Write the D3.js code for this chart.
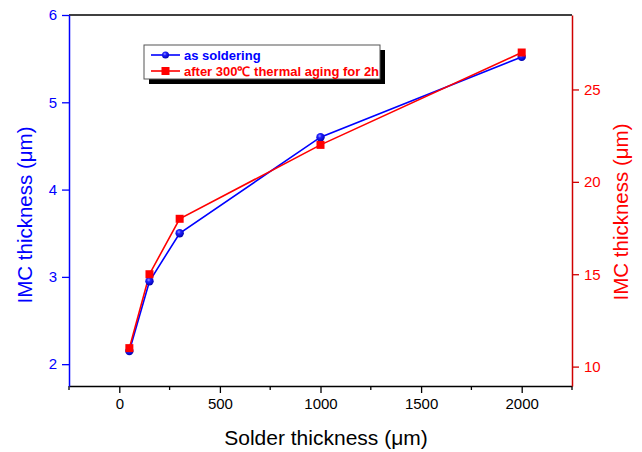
<!DOCTYPE html>
<html>
<head>
<meta charset="utf-8">
<script src="https://cdn.jsdelivr.net/npm/d3@7"></script>
<style>
  body { margin: 0; background: #fff; }
  text { font-family: "Liberation Sans", Arial, sans-serif; }
</style>
</head>
<body>
<div id="chart"></div>
<script>
// solder thickness (um)
var solder = [50, 150, 300, 1000, 2000];
// IMC thickness as soldered (left axis)
var asSoldering = [2.15, 2.95, 3.5, 4.6, 5.52];
// IMC thickness after 300C aging 2h (right axis)
var afterAging = [11, 15, 18, 22, 27];
var xTicks = [0, 500, 1000, 1500, 2000];
var xMinor = [-250, 250, 750, 1250, 1750, 2250];
var yLeftTicks = [2, 3, 4, 5, 6];
var yRightTicks = [10, 15, 20, 25];
var legendLabels = ["as soldering", "after 300\u2103 thermal aging for 2h"];

var W = 642, H = 452;
var pLeft = 69, pRight = 572, pTop = 15, pBottom = 386;
var blue = "#0000ff", red = "#ff0000";

var svg = d3.select("#chart").append("svg")
    .attr("width", W)
    .attr("height", H);

var x = d3.scaleLinear().domain([-250, 2250]).range([pLeft, pRight]);
var yL = d3.scaleLinear().domain([1.75, 6]).range([pBottom, pTop]);
var yR = d3.scaleLinear().domain([8.95, 29.03]).range([pBottom, pTop]);

var defs = svg.append("defs");
var grad = defs.append("radialGradient").attr("id", "ball")
    .attr("cx", "40%").attr("cy", "35%").attr("r", "65%");
grad.append("stop").attr("offset", "0%").attr("stop-color", "#9a9aff");
grad.append("stop").attr("offset", "35%").attr("stop-color", "#2020ff");
grad.append("stop").attr("offset", "100%").attr("stop-color", "#0000b0");

// frame top
svg.append("line").attr("x1", pLeft).attr("x2", pRight).attr("y1", pTop).attr("y2", pTop)
    .attr("stroke", "#000").attr("stroke-width", 1.5);

// bottom axis
var xAxis = svg.append("g").attr("transform", "translate(0," + pBottom + ")")
    .call(d3.axisBottom(x).tickValues(xTicks).tickFormat(d3.format("d"))
        .tickSize(7).tickSizeOuter(0).tickPadding(5));
xAxis.select(".domain").attr("stroke", "#000").attr("stroke-width", 1.5);
xAxis.selectAll(".tick line").attr("stroke-width", 1.3);
xAxis.selectAll("text").attr("font-size", 15).attr("fill", "#000");
svg.append("g").selectAll("line").data(xMinor).enter().append("line")
    .attr("x1", function(d){return x(d);}).attr("x2", function(d){return x(d);})
    .attr("y1", pBottom).attr("y2", pBottom + 4)
    .attr("stroke", "#000").attr("stroke-width", 1.3);

// left axis
var yLeft = svg.append("g").attr("transform", "translate(" + pLeft + ",0)")
    .call(d3.axisLeft(yL).tickValues(yLeftTicks).tickFormat(d3.format("d"))
        .tickSize(7).tickSizeOuter(0).tickPadding(5));
yLeft.select(".domain").attr("stroke", blue).attr("stroke-width", 1.5);
yLeft.selectAll(".tick line").attr("stroke", blue).attr("stroke-width", 1.3);
yLeft.selectAll("text").attr("font-size", 15).attr("fill", blue);

// right axis
var yRight = svg.append("g").attr("transform", "translate(" + pRight + ",0)")
    .call(d3.axisRight(yR).tickValues(yRightTicks).tickFormat(d3.format("d"))
        .tickSize(7).tickSizeOuter(0).tickPadding(5));
yRight.select(".domain").attr("stroke", "#d00000").attr("stroke-width", 1.5);
yRight.selectAll(".tick line").attr("stroke", "#d00000").attr("stroke-width", 1.3);
yRight.selectAll("text").attr("font-size", 15).attr("fill", red);

// axis titles
svg.append("text").attr("x", 326).attr("y", 445)
    .attr("text-anchor", "middle").attr("font-size", 21).attr("fill", "#000")
    .text("Solder thickness (\u03bcm)");
svg.append("text").attr("transform", "translate(32,215) rotate(-90)")
    .attr("text-anchor", "middle").attr("font-size", 20.5).attr("fill", blue)
    .text("IMC thickness (\u03bcm)");
svg.append("text").attr("transform", "translate(628,212) rotate(-90)")
    .attr("text-anchor", "middle").attr("font-size", 20.5).attr("fill", red)
    .text("IMC thickness (\u03bcm)");

// series
var blueData = solder.map(function(d, i){ return [d, asSoldering[i]]; });
var redData = solder.map(function(d, i){ return [d, afterAging[i]]; });

svg.append("path").datum(blueData)
    .attr("fill", "none").attr("stroke", blue).attr("stroke-width", 1.6)
    .attr("d", d3.line().x(function(d){return x(d[0]);}).y(function(d){return yL(d[1]);}));
svg.append("path").datum(redData)
    .attr("fill", "none").attr("stroke", red).attr("stroke-width", 1.6)
    .attr("d", d3.line().x(function(d){return x(d[0]);}).y(function(d){return yR(d[1]);}));

svg.selectAll("circle.pt").data(blueData).enter().append("circle")
    .attr("class", "pt")
    .attr("cx", function(d){return x(d[0]);})
    .attr("cy", function(d){return yL(d[1]);})
    .attr("r", 4.2)
    .attr("fill", "url(#ball)");
svg.selectAll("rect.pt").data(redData).enter().append("rect")
    .attr("class", "pt")
    .attr("x", function(d){return x(d[0]) - 4;})
    .attr("y", function(d){return yR(d[1]) - 4;})
    .attr("width", 8).attr("height", 8)
    .attr("fill", red);

// legend
var lg = svg.append("g").attr("transform", "translate(144,45)");
lg.append("rect").attr("x", 5).attr("y", 5).attr("width", 236).attr("height", 34).attr("fill", "#000");
lg.append("rect").attr("x", 0).attr("y", 0).attr("width", 236).attr("height", 34)
    .attr("fill", "#fff").attr("stroke", "#555").attr("stroke-width", 1);
var rows = [
  {label: legendLabels[0], color: blue, y: 10},
  {label: legendLabels[1], color: red, y: 26}
];
rows.forEach(function(r, i){
    lg.append("line").attr("x1", 7).attr("x2", 36).attr("y1", r.y).attr("y2", r.y)
        .attr("stroke", r.color).attr("stroke-width", 1.6);
    if (i === 0) {
        lg.append("circle").attr("cx", 21.5).attr("cy", r.y).attr("r", 3.5).attr("fill", "url(#ball)");
    } else {
        lg.append("rect").attr("x", 17.5).attr("y", r.y - 4).attr("width", 8).attr("height", 8).attr("fill", red);
    }
    lg.append("text").attr("x", 40).attr("y", r.y + 4.5)
        .attr("font-size", 13).attr("font-weight", "bold").attr("fill", r.color)
        .text(r.label);
});
</script>
</body>
</html>
